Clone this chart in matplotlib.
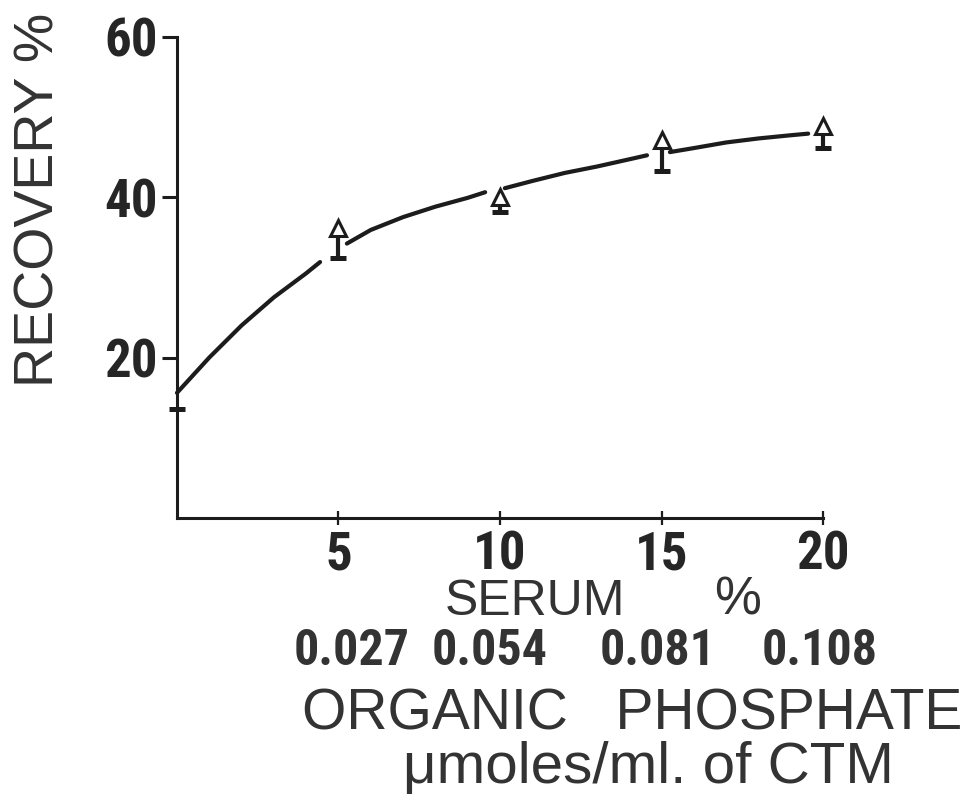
import numpy as np
import matplotlib
matplotlib.use("Agg")
import matplotlib.pyplot as plt
from matplotlib import font_manager

# Recovery of added phosphate against serum concentration
serum_pct = [0, 5, 10, 15, 20]
recovery_top = [np.nan, 36.2, 40.0, 47.1, 48.9]   # open triangles
recovery_low = [13.6, 32.4, 38.1, 43.2, 46.1]     # lower bar of each point

# Hand-drawn trend curve, broken around the markers
curve_x = [0, 1, 2, 3, 4, 4.43, np.nan,
           5.26, 6, 7, 8, 9, 9.54, np.nan,
           10.15, 11, 12, 13, 14, 14.55, np.nan,
           15.26, 16, 17, 18, 19, 19.54]
curve_y = [15.6, 20.0, 24.0, 27.5, 30.5, 31.9, np.nan,
           34.2, 35.9, 37.5, 38.8, 39.9, 40.6, np.nan,
           41.1, 42.0, 43.0, 43.8, 44.7, 45.2, np.nan,
           45.6, 46.1, 46.8, 47.3, 47.7, 47.9]

x_ticks = [5, 10, 15, 20]
y_ticks = [20, 40, 60]
phosphate_labels = ["0.027", "0.054", "0.081", "0.108"]

ink = "#1c1c1c"
label_ink = "#333333"
sans = ["Liberation Sans", "DejaVu Sans"]

# Prefer a condensed face for the numerals when one is installed
installed = {f.name for f in font_manager.fontManager.ttflist}
narrow = [n for n in ("Liberation Sans Narrow", "Roboto Condensed",
                      "Open Sans Condensed", "DejaVu Sans Condensed")
          if n in installed]
if narrow:
    num_family, num_size, ph_size = [narrow[0], "DejaVu Sans"], 38, 36
else:
    num_family, num_size, ph_size = sans, 35, 31

fig = plt.figure(figsize=(9.66, 7.96), dpi=100)
ax = fig.add_axes([0.1832, 0.3492, 0.6688, 0.6049])

ax.plot(curve_x, curve_y, color=ink, lw=3.0, solid_capstyle="round",
        clip_on=False, zorder=2)

low = np.array(recovery_low)
top = np.array(recovery_top)
x = np.array(serum_pct, dtype=float)
has_top = ~np.isnan(top)

ax.vlines(x[has_top], low[has_top], top[has_top], color=ink, lw=3.0,
          clip_on=False, zorder=3)
ax.plot(x, low, linestyle="none", marker="_", markersize=12,
        markeredgewidth=3.6, color=ink, clip_on=False, zorder=3)
ax.plot(x[has_top], top[has_top], linestyle="none", marker="^",
        markersize=11, markerfacecolor="white", markeredgecolor=ink,
        markeredgewidth=2.2, clip_on=False, zorder=4)

ax.set_xlim(0, 20)
ax.set_ylim(0, 60)
for side in ("top", "right"):
    ax.spines[side].set_visible(False)
for side in ("left", "bottom"):
    ax.spines[side].set_linewidth(2.2)
    ax.spines[side].set_color(ink)

ax.set_xticks(x_ticks)
ax.set_xticklabels([str(t) for t in x_ticks])
ax.set_yticks(y_ticks)
ax.set_yticklabels([str(t) for t in y_ticks])
ax.tick_params(axis="x", direction="inout", length=10, width=1.6,
               colors=ink, pad=3)
ax.tick_params(axis="y", direction="out", length=11, width=2.2,
               colors=ink, pad=3)
for lab in ax.get_xticklabels() + ax.get_yticklabels():
    lab.set_family(num_family)
    lab.set_fontsize(num_size)
    lab.set_fontweight("bold")
    lab.set_color("#262626")

# Axis titles
fig.text(0.041, 0.749, "RECOVERY %", rotation=90, ha="center", va="center",
         family=sans, fontsize=40, color=label_ink)
fig.text(535 / 966, 0.228, "SERUM", ha="center", va="baseline",
         family=sans, fontsize=36, color=label_ink)
fig.text(738 / 966, 0.228, "%", ha="center", va="baseline",
         family=sans, fontsize=38, color=label_ink)

for cx, txt in zip([352, 490, 658, 820], phosphate_labels):
    fig.text(cx / 966, 0.1646, txt, ha="center", va="baseline",
             family=num_family, fontsize=ph_size, fontweight="bold",
             color=label_ink)

fig.text(632 / 966, 0.083, "ORGANIC   PHOSPHATE", ha="center",
         va="baseline", family=sans, fontsize=41, color=label_ink)
fig.text(648 / 966, 0.016, "\u03bcmoles/ml. of CTM", ha="center",
         va="baseline", family=sans, fontsize=42, color=label_ink)

fig.savefig("out.png", dpi=100, facecolor="white")
